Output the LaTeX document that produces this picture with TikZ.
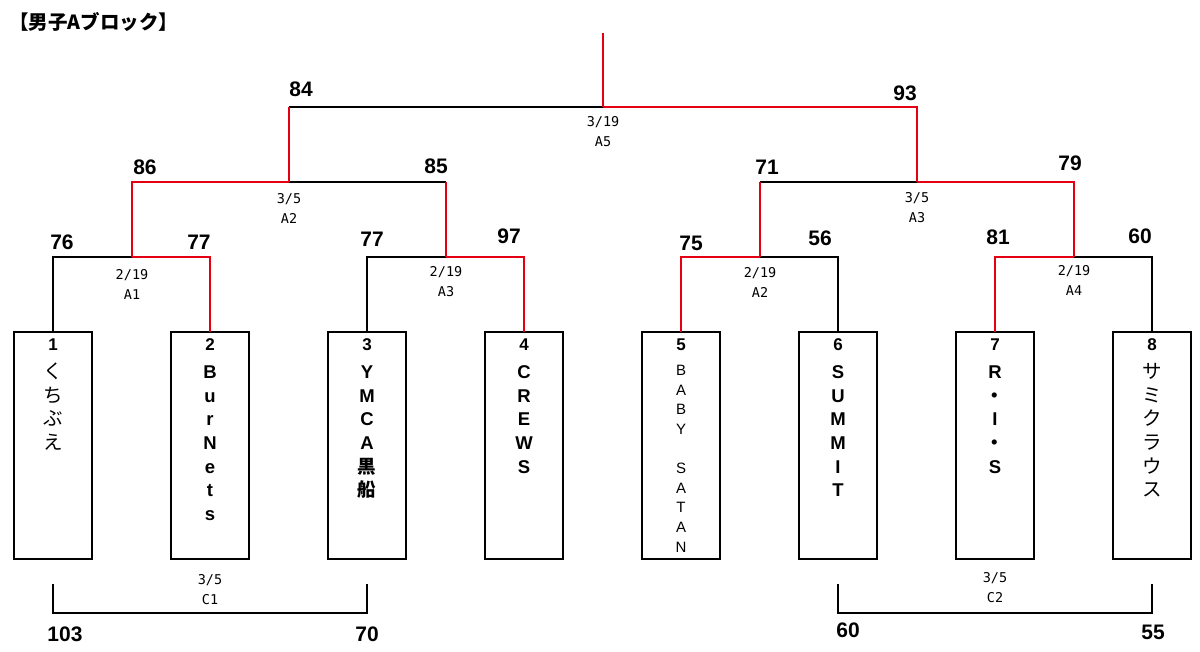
\documentclass[tikz,border=0pt]{standalone}
\usepackage{fontspec}
\setmainfont{Liberation Sans}
\newfontfamily\cjkfont{Noto Sans CJK JP}
\newfontfamily\smallmono{DejaVu Sans Mono}
\definecolor{winred}{RGB}{228,0,18}
\begin{document}
\begin{tikzpicture}[x=1pt,y=-1pt,
  box/.style={draw=black, line width=2pt, minimum width=78pt, minimum height=227pt, inner sep=0pt, outer sep=0pt},
  blk/.style={draw=black, line width=2pt},
  rd/.style={draw=winred, line width=2pt},
  score/.style={font=\bfseries\fontsize{21}{24}\selectfont, inner sep=0pt},
  datelab/.style={font=\smallmono\fontsize{13.5}{20}\selectfont, align=center, inner sep=0pt},
  numlab/.style={font=\bfseries\fontsize{17}{20}\selectfont, inner sep=0pt, anchor=base},
  tname/.style={anchor=north, align=center, inner sep=0pt, font=\bfseries\fontsize{18.5}{23.6}\selectfont},
  tcjk/.style={anchor=north, align=center, inner sep=0pt, font=\cjkfont\fontsize{19.5}{23.6}\selectfont},
  tthin/.style={anchor=north, align=center, inner sep=0pt, font=\fontsize{15}{19.6}\selectfont}
]
\fill[white] (0,0) rectangle (1200,652);
\useasboundingbox (0,0) rectangle (1200,652);

\node[anchor=west, font=\cjkfont\bfseries\fontsize{19.5}{22}\selectfont, inner sep=0pt] (title) at (9,22) {【男子Aブロック】};

% boxes
\node[box] (b1) at (53,445.5) {};
\node[box] (b2) at (210,445.5) {};
\node[box] (b3) at (367,445.5) {};
\node[box] (b4) at (524,445.5) {};
\node[box] (b5) at (681,445.5) {};
\node[box] (b6) at (838,445.5) {};
\node[box] (b7) at (995,445.5) {};
\node[box] (b8) at (1152,445.5) {};

% numbers
\node[numlab] (n1) at (53,351) {1};
\node[numlab] (n2) at (210,351) {2};
\node[numlab] (n3) at (367,351) {3};
\node[numlab] (n4) at (524,351) {4};
\node[numlab] (n5) at (681,351) {5};
\node[numlab] (n6) at (838,351) {6};
\node[numlab] (n7) at (995,351) {7};
\node[numlab] (n8) at (1152,351) {8};

% team names
\node[tcjk] (t1) at (53,361.5) {\rule{0pt}{17pt}く\\ち\\ぶ\\え};
\node[tname] (t2) at (210,361.5) {\rule{0pt}{17pt}B\\u\\r\\N\\e\\t\\s};
\node[tname] (t3) at (367,361.5) {\rule{0pt}{17pt}Y\\M\\C\\A\\{\cjkfont 黒}\\{\cjkfont 船}};
\node[tname] (t4) at (524,361.5) {\rule{0pt}{17pt}C\\R\\E\\W\\S};
\node[tthin] (t5) at (681,361.5) {\rule{0pt}{14pt}B\\A\\B\\Y\\\mbox{}\\S\\A\\T\\A\\N};
\node[tname] (t6) at (838,361.5) {\rule{0pt}{17pt}S\\U\\M\\M\\I\\T};
\node[tname] (t7) at (995,361.5) {\rule{0pt}{17pt}R\\{\cjkfont\bfseries ・}\\I\\{\cjkfont\bfseries ・}\\S};
\node[tcjk] (t8) at (1152,361.5) {\rule{0pt}{17pt}サ\\ミ\\ク\\ラ\\ウ\\ス};

% joints
\coordinate (j1) at (132,257);
\coordinate (j2) at (446,257);
\coordinate (j3) at (760,257);
\coordinate (j4) at (1074,257);
\coordinate (k1) at (289,182);
\coordinate (k2) at (917,182);
\coordinate (f) at (603,107);
\coordinate (top) at (603,33);

% black lines
\draw[blk] (b1.north) |- (j1);
\draw[blk] (b3.north) |- (j2);
\draw[blk] (k1) -- (k1 -| j2);
\draw[blk] (k1 |- f) -- (f);
\draw[blk] (b6.north) |- (j3);
\draw[blk] (j3 |- k2) -- (k2);
\draw[blk] (b8.north) |- (j4);

% red lines
\draw[rd] (b2.north) |- (j1);
\draw[rd] (j1) |- (k1);
\draw[rd] (b4.north) |- (j2);
\draw[rd] (j2) -- (k1 -| j2);
\draw[rd] (k1) -- (k1 |- f);
\draw[rd] (b5.north) |- (j3);
\draw[rd] (j3) -- (j3 |- k2);
\draw[rd] (b7.north) |- (j4);
\draw[rd] (j4) |- (k2);
\draw[rd] (k2) |- (f);
\draw[rd] (f) -- (top);

% consolation brackets
\coordinate (c1a) at (53,584);
\coordinate (c1b) at (367,584);
\coordinate (c1m) at (210,613);
\coordinate (c2a) at (838,584);
\coordinate (c2b) at (1152,584);
\coordinate (c2m) at (995,613);
\draw[blk] (c1a) |- (c1m) -| (c1b);
\draw[blk] (c2a) |- (c2m) -| (c2b);

% scores
\node[score] (s84) at (301,89) {84};
\node[score] (s93) at (905,93) {93};
\node[score] (s86) at (145,167) {86};
\node[score] (s85) at (436,166) {85};
\node[score] (s71) at (767,167) {71};
\node[score] (s79) at (1070,163) {79};
\node[score] (s76) at (62,242) {76};
\node[score] (s77a) at (199,242) {77};
\node[score] (s77b) at (372,239) {77};
\node[score] (s97) at (509,236) {97};
\node[score] (s75) at (691,243) {75};
\node[score] (s56) at (820,238) {56};
\node[score] (s81) at (998,237) {81};
\node[score] (s60a) at (1140,236) {60};
\node[score] (s103) at (65,634) {103};
\node[score] (s70) at (367,634) {70};
\node[score] (s60b) at (848,630) {60};
\node[score] (s55) at (1153,632) {55};

% dates / match ids
\node[datelab] (dA5) at (603,132) {3/19\\A5};
\node[datelab] (dA2b) at (289,208) {3/5\\A2};
\node[datelab] (dA3b) at (917,208) {3/5\\A3};
\node[datelab] (dA1) at (132,284) {2/19\\A1};
\node[datelab] (dA3) at (446,282) {2/19\\A3};
\node[datelab] (dA2) at (760,282) {2/19\\A2};
\node[datelab] (dA4) at (1074,280) {2/19\\A4};
\node[datelab] (dC1) at (210,590) {3/5\\C1};
\node[datelab] (dC2) at (995,588) {3/5\\C2};
\end{tikzpicture}
\end{document}
